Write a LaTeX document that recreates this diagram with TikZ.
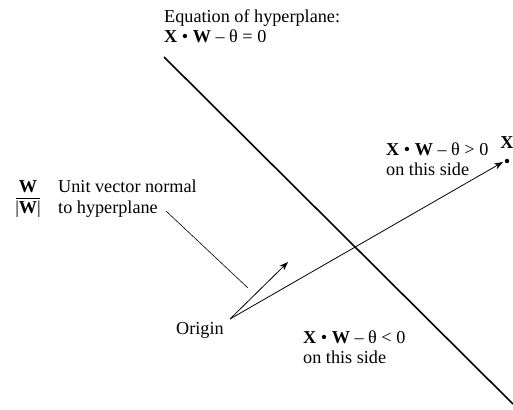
\documentclass[tikz,border=0pt]{standalone}
\usepackage{fontspec}
\setmainfont{Liberation Serif}
\usetikzlibrary{arrows.meta}
\begin{document}
\begin{tikzpicture}[x=1pt,y=-1pt,
  lbl/.style={inner sep=0pt,anchor=base west,font=\fontsize{18.2}{21}\selectfont},
  plane/.style={line width=1.6pt},
  vec/.style={line width=0.8pt,-{Stealth[length=9pt,width=6.5pt]}},
  ptr/.style={line width=0.6pt}]
\useasboundingbox (0,0) rectangle (513,409);
% hyperplane
\coordinate (p1) at (164,57);
\coordinate (p2) at (513,404);
\draw[plane] (p1) -- (p2);
% origin and vectors
\coordinate (o) at (230,319);
\coordinate (u) at (288,262);
\coordinate (xp) at (503,162);
\fill (507,161) circle (2.2pt) node (xdot) {};
\draw[vec] (o) -- (u);
\draw[vec] (o) -- (xp);
% labels
\node[lbl] (eq1) at (164,23) {Equation of hyperplane:};
\node[lbl] (eq2) at (164,43) {\textbf{X} • \textbf{W} – θ = 0};
\node[lbl] (gt1) at (386,155) {\textbf{X} • \textbf{W} – θ > 0};
\node[lbl] (gt2) at (386,175) {on this side};
\node[lbl] (lt1) at (303,343) {\textbf{X} • \textbf{W} – θ < 0};
\node[lbl] (lt2) at (303,363) {on this side};
\node[lbl,anchor=base] (xl) at (507,148) {\textbf{X}};
\node[lbl] (orig) at (176,334) {Origin};
\node[lbl] (un1) at (58,192) {Unit vector normal};
\node[lbl] (un2) at (58,213) {to hyperplane};
\node[lbl,anchor=base] (fw) at (28,192) {\textbf{W}};
\node[lbl,anchor=base] (fw2) at (28,213) {|\textbf{W}|};
\draw[line width=0.7pt] (16,198) -- (40,198);
% pointers
\coordinate (pa) at (166,211);
\coordinate (pb) at (248,288);
\draw[ptr] (pa) -- (pb);
\end{tikzpicture}
\end{document}
